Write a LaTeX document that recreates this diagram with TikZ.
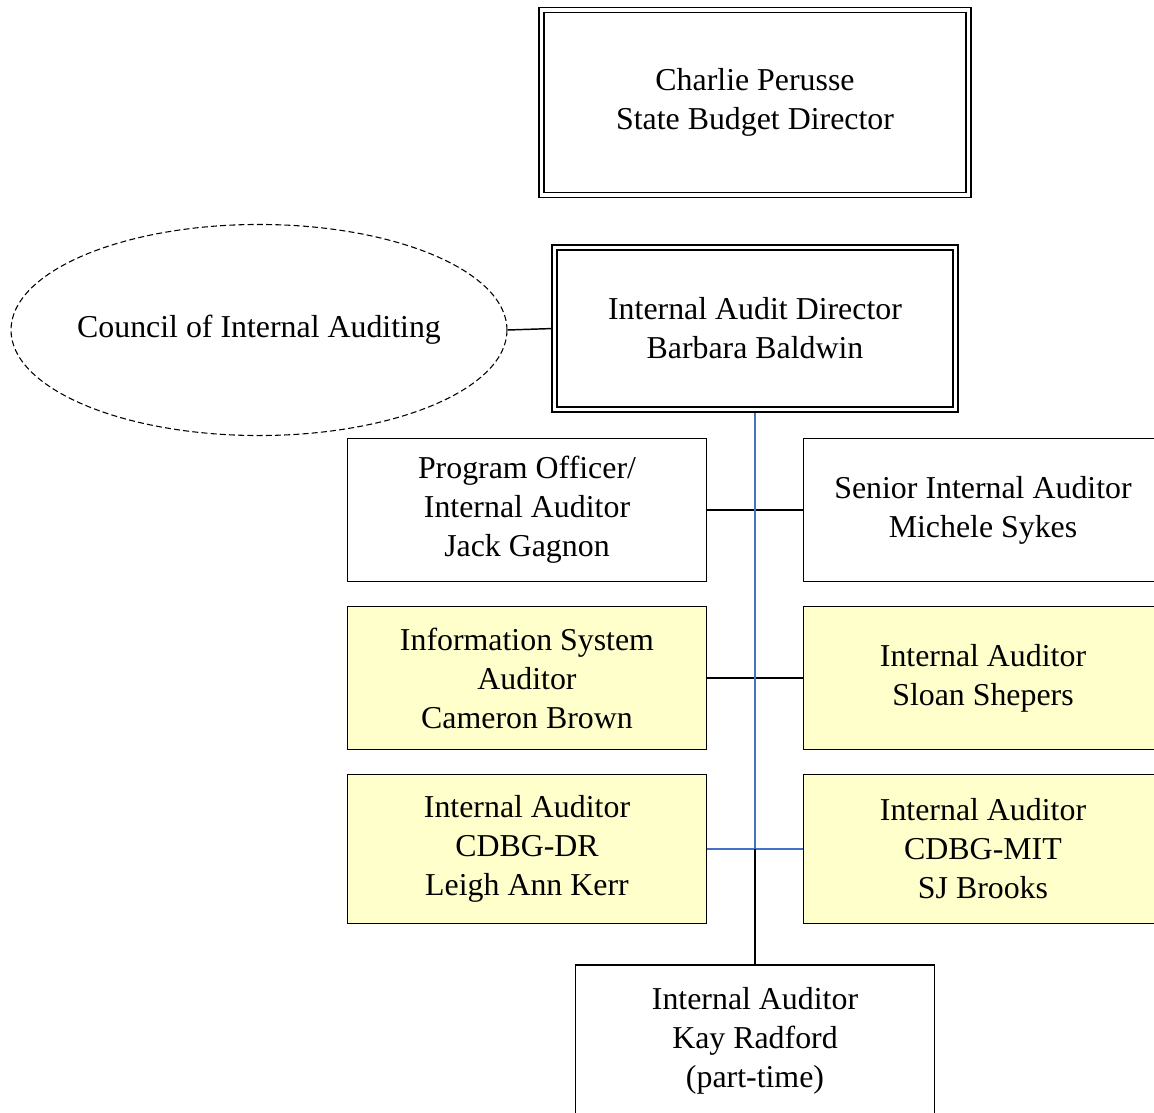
\documentclass[tikz,border=0pt]{standalone}
\usepackage{fontspec}
\setmainfont{Liberation Serif}
\usetikzlibrary{shapes.geometric,backgrounds}
\definecolor{auditfill}{HTML}{FFFFCC}
\definecolor{auditblue}{HTML}{4472C4}

\tikzset{
  every node/.style={font=\fontsize{23.9}{29.3}\selectfont},
  dbox/.style={draw, double, double distance=2.6pt, line width=1.1pt, align=center, inner sep=0pt},
  pbox/.style={draw, line width=1.1pt, align=center, inner sep=0pt, minimum width=268.9pt},
  ybox/.style={pbox, fill=auditfill},
  conn/.style={line width=1.1pt},
  blueconn/.style={line width=1.1pt, draw=auditblue}
}

\begin{document}
\begin{tikzpicture}[x=0.75pt,y=-0.75pt]
  \useasboundingbox (0,0) rectangle (1154,1113);
  \clip (0,0) rectangle (1154,1113);
  % top of the chart
  \node[dbox, minimum width=320.3pt, minimum height=138.4pt] (budget) at (755,102.5) {Charlie Perusse\\State Budget Director};
  \node[dbox, minimum width=300.8pt, minimum height=121.5pt] (director) at (755,328.5) {Internal Audit Director\\Barbara Baldwin};
  \node[draw, ellipse, dashed, dash pattern=on 4.5pt off 2.4pt, line width=0.8pt,
        inner xsep=-5pt, inner ysep=0pt,
        minimum width=372pt, minimum height=158.3pt] (council) at (259,330) {Council of Internal Auditing};
  % staff
  \node[pbox, minimum height=106.9pt] (gagnon) at (527,510) {Program Officer/\\Internal Auditor\\Jack Gagnon};
  \node[pbox, minimum height=106.9pt] (sykes) at (983,510) {Senior Internal Auditor\\Michele Sykes};
  \node[ybox, minimum height=106.9pt] (brown) at (527,678) {Information System\\Auditor\\Cameron Brown};
  \node[ybox, minimum height=106.9pt] (shepers) at (983,678) {Internal Auditor\\Sloan Shepers};
  \node[ybox, minimum height=111.4pt] (kerr) at (527,849) {Internal Auditor\\CDBG-DR\\Leigh Ann Kerr};
  \node[ybox, minimum height=111.4pt] (brooks) at (983,849) {Internal Auditor\\CDBG-MIT\\SJ Brooks};
  \node[pbox, minimum height=114pt] (radford) at (755,1041) {Internal Auditor\\Kay Radford\\(part-time)};
  \coordinate (split) at (director.south |- kerr.east);
  % connectors
  \begin{scope}[on background layer]
    \draw[conn] (council.east) -- (director.west);
    \draw[conn] (gagnon.east) -- (sykes.west);
    \draw[conn] (brown.east) -- (shepers.west);
    \draw[blueconn] (director.south) -- (split);
    \draw[blueconn] (kerr.east) -- (brooks.west);
    \draw[conn] (split) -- (radford.north);
  \end{scope}
\end{tikzpicture}
\end{document}
